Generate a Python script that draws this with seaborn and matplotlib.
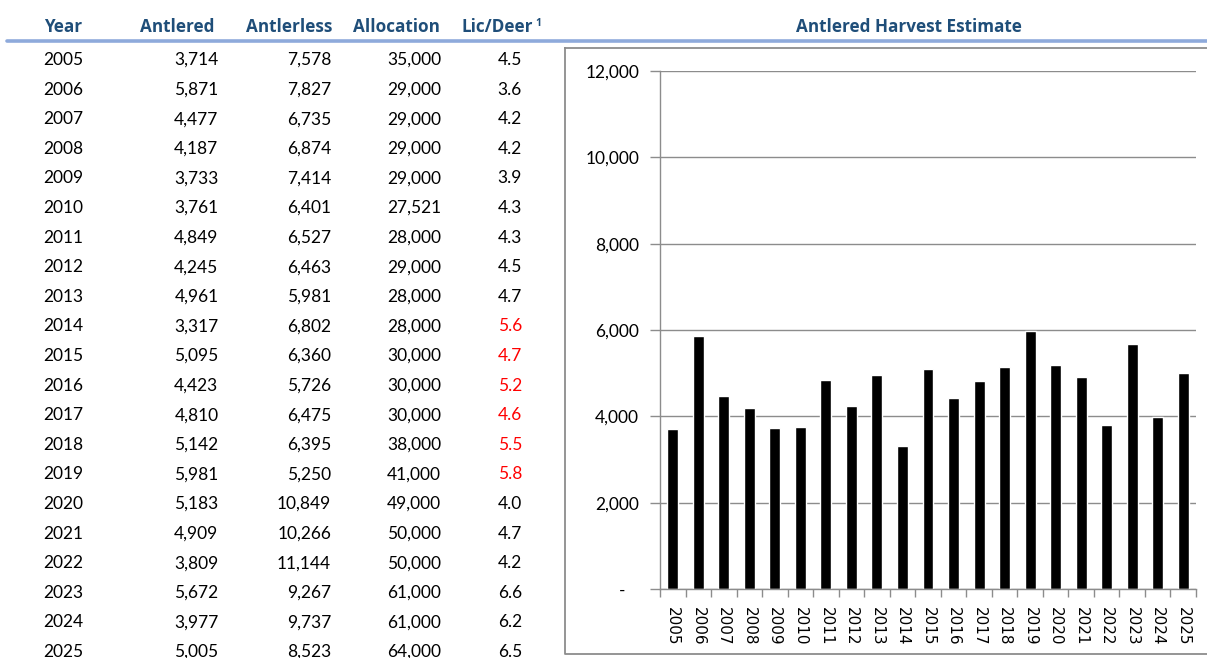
import matplotlib
matplotlib.use("Agg")
import matplotlib.pyplot as plt
import seaborn as sns
import pandas as pd
from matplotlib.lines import Line2D
from matplotlib.ticker import FuncFormatter

# Harvest summary by year
years = [2005, 2006, 2007, 2008, 2009, 2010, 2011, 2012, 2013, 2014, 2015,
         2016, 2017, 2018, 2019, 2020, 2021, 2022, 2023, 2024, 2025]
antlered = [3714, 5871, 4477, 4187, 3733, 3761, 4849, 4245, 4961, 3317, 5095,
            4423, 4810, 5142, 5981, 5183, 4909, 3809, 5672, 3977, 5005]
antlerless = [7578, 7827, 6735, 6874, 7414, 6401, 6527, 6463, 5981, 6802, 6360,
              5726, 6475, 6395, 5250, 10849, 10266, 11144, 9267, 9737, 8523]
allocation = [35000, 29000, 29000, 29000, 29000, 27521, 28000, 29000, 28000, 28000, 30000,
              30000, 30000, 38000, 41000, 49000, 50000, 50000, 61000, 61000, 64000]
lic_per_deer = [4.5, 3.6, 4.2, 4.2, 3.9, 4.3, 4.3, 4.5, 4.7, 5.6, 4.7,
                5.2, 4.6, 5.5, 5.8, 4.0, 4.7, 4.2, 6.6, 6.2, 6.5]
# Years whose licence-per-deer figure is flagged in red
flagged_years = [2014, 2015, 2016, 2017, 2018, 2019]

headers = ["Year", "Antlered", "Antlerless", "Allocation", "Lic/Deer"]
chart_title = "Antlered Harvest Estimate"
y_ticks = [0, 2000, 4000, 6000, 8000, 10000, 12000]

sns.set_theme(style="white")
plt.rcParams["font.family"] = ["Lato", "DejaVu Sans"]

W, H = 1207, 658
fig = plt.figure(figsize=(W / 100, H / 100), dpi=100)
fig.patch.set_facecolor("white")

HEAD_BLUE = "#1F4E79"
RULE_BLUE = "#8EAADB"
GREY = "#8C8C8C"
FS = 12.5
HEAD_FONT = ["Open Sans", "DejaVu Sans"]
HEAD_FS = 12.3


def fx(px):
    return px / W


def fy(py):
    return 1 - py / H


# Header rule across the page
fig.add_artist(Line2D([fx(7), fx(1207)], [fy(40.5), fy(40.5)],
                      color=RULE_BLUE, lw=2.6, transform=fig.transFigure))

# Chart frame
frame_x = [fx(565), fx(565), fx(1210), fx(1210), fx(565)]
frame_y = [fy(48), fy(654), fy(654), fy(48), fy(48)]
fig.add_artist(Line2D(frame_x, frame_y, color=GREY, lw=1.3,
                      transform=fig.transFigure))

# Table headers
head_base = 31.5
fig.text(fx(43.6), fy(head_base), headers[0], ha="left", va="baseline",
         fontsize=HEAD_FS, fontweight="bold", color=HEAD_BLUE, family=HEAD_FONT)
col_right = [218.5, 331, 441, 522]
head_right = [215, 332, 440, 533]
for name, xr in zip(headers[1:], head_right):
    fig.text(fx(xr), fy(head_base), name, ha="right", va="baseline",
             fontsize=HEAD_FS, fontweight="bold", color=HEAD_BLUE, family=HEAD_FONT)
fig.text(fx(535), fy(25.5), "1", ha="left", va="baseline",
         fontsize=7.5, fontweight="bold", color=HEAD_BLUE, family=HEAD_FONT)

# Table body
row0, row_step = 65, 29.6
for i, yr in enumerate(years):
    yb = fy(row0 + i * row_step)
    fig.text(fx(43.6), yb, str(yr), ha="left", va="baseline", fontsize=FS, color="black")
    vals = [f"{antlered[i]:,}", f"{antlerless[i]:,}", f"{allocation[i]:,}",
            f"{lic_per_deer[i]:.1f}"]
    for j, (v, xr) in enumerate(zip(vals, col_right)):
        c = "#FF0000" if (j == 3 and yr in flagged_years) else "black"
        fig.text(fx(xr), yb, v, ha="right", va="baseline", fontsize=FS, color=c)

# Chart title
fig.text(fx(909), fy(head_base), chart_title, ha="center", va="baseline",
         fontsize=HEAD_FS, fontweight="bold", color=HEAD_BLUE, family=HEAD_FONT)

# Bar chart
ax = fig.add_axes([fx(660), fy(589), fx(1196) - fx(660), fy(71) - fy(589)])
df = pd.DataFrame({"Year": [str(y) for y in years], "Antlered": antlered})
sns.barplot(data=df, x="Year", y="Antlered", color="black", width=0.43,
            saturation=1, ax=ax)
ax.set_xlim(-0.5, len(years) - 0.5)
ax.set_ylim(0, 12000)
ax.set_yticks(y_ticks)
ax.yaxis.set_major_formatter(FuncFormatter(lambda v, p: "-   " if v == 0 else f"{int(v):,}"))
ax.set_xlabel("")
ax.set_ylabel("")
ax.grid(axis="y", color=GREY, lw=1.0)
ax.set_axisbelow(True)
for s in ["top", "right"]:
    ax.spines[s].set_visible(False)
for s in ["left", "bottom"]:
    ax.spines[s].set_color(GREY)
    ax.spines[s].set_linewidth(1.0)

ax.tick_params(axis="y", which="major", direction="out", length=7, width=1,
               color=GREY, pad=8, labelsize=FS, labelcolor="black", left=True)
for lab in ax.get_yticklabels():
    lab.set_fontfamily(["Lato", "DejaVu Sans"])

# Category separators on the x axis, labels rotated to read downwards
ax.set_xticks([i - 0.5 for i in range(len(years) + 1)], minor=True)
ax.tick_params(axis="x", which="minor", direction="out", length=6, width=1,
               color=GREY, bottom=True)
ax.tick_params(axis="x", which="major", length=0, pad=13, labelsize=11,
               labelcolor="black")
for lab in ax.get_xticklabels():
    lab.set_rotation(-90)
    lab.set_va("top")
    lab.set_ha("center")
    lab.set_fontfamily("DejaVu Sans")

fig.savefig("out.png", dpi=100, facecolor="white")
